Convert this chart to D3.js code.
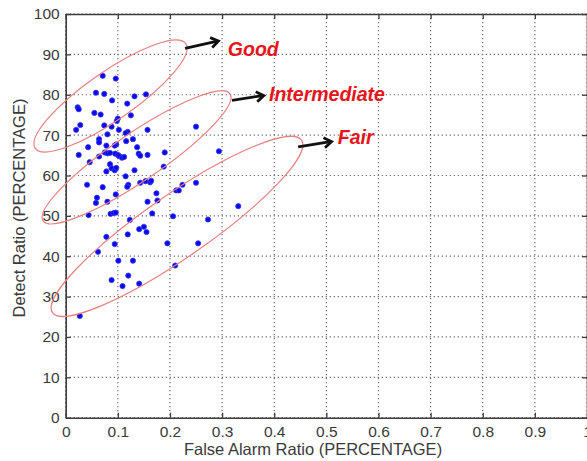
<!DOCTYPE html>
<html>
<head>
<meta charset="utf-8">
<script src="https://cdn.jsdelivr.net/npm/d3@7"></script>
<style>
  body { margin: 0; background: #fff; }
  svg { display: block; }
</style>
</head>
<body>
<div id="chart"></div>
<script>
// False alarm ratio / detect ratio pairs
var falseAlarm = [
  0.071, 0.096, 0.058, 0.074, 0.089, 0.154, 0.132, 0.118, 0.023, 0.025,
  0.055, 0.067, 0.125, 0.100, 0.098, 0.028, 0.074, 0.088, 0.020, 0.102,
  0.157, 0.119, 0.115, 0.080, 0.250, 0.064, 0.129, 0.116, 0.064, 0.043,
  0.097, 0.094, 0.078, 0.137, 0.025, 0.064, 0.075, 0.080, 0.085, 0.095,
  0.100, 0.103, 0.108, 0.112, 0.140, 0.143, 0.157, 0.190, 0.294, 0.046,
  0.085, 0.088, 0.078, 0.094, 0.132, 0.115, 0.188, 0.041, 0.071, 0.120,
  0.118, 0.143, 0.162, 0.164, 0.250, 0.224, 0.212, 0.217, 0.096, 0.174,
  0.060, 0.058, 0.080, 0.157, 0.176, 0.331, 0.044, 0.086, 0.092, 0.096,
  0.166, 0.206, 0.123, 0.273, 0.078, 0.062, 0.094, 0.119, 0.141, 0.150,
  0.155, 0.195, 0.254, 0.101, 0.129, 0.210, 0.088, 0.120, 0.141, 0.109,
  0.027, 0.153, 0.097
];
var detect = [
  84.7, 84.0, 80.5, 80.2, 78.6, 80.1, 79.6, 77.8, 76.9, 76.4,
  75.5, 75.1, 74.9, 74.1, 73.5, 72.5, 72.4, 72.1, 71.3, 71.3,
  71.3, 70.8, 70.5, 70.2, 72.1, 69.0, 69.0, 68.5, 68.2, 67.0,
  67.7, 67.4, 67.4, 67.0, 65.1, 64.7, 65.7, 65.5, 65.6, 65.4,
  65.1, 64.8, 64.4, 64.6, 65.4, 64.9, 65.1, 65.7, 66.0, 63.3,
  62.8, 61.8, 61.0, 61.3, 61.3, 59.8, 62.2, 57.7, 57.1, 57.7,
  57.2, 58.2, 58.3, 58.7, 58.2, 57.7, 56.3, 56.3, 55.3, 55.6,
  54.5, 53.2, 53.5, 53.5, 53.8, 52.4, 50.2, 50.5, 50.7, 50.8,
  50.6, 49.9, 49.0, 49.1, 44.8, 41.1, 43.0, 45.4, 46.7, 47.3,
  46.0, 43.2, 43.2, 38.9, 38.9, 37.7, 34.1, 35.2, 33.2, 32.6,
  25.2, 58.6, 61.9
];

var xTicks = [0, 0.1, 0.2, 0.3, 0.4, 0.5, 0.6, 0.7, 0.8, 0.9, 1];
var yTicks = [0, 10, 20, 30, 40, 50, 60, 70, 80, 90, 100];

// class regions (ellipse centres in data units) and their labels
var classNames = ['Good', 'Intermediate', 'Fair'];
var classCx = [0.086, 0.136, 0.2135];
var classCy = [79.7, 64.5, 47.4];
var arrowFromX = [0.229, 0.319, 0.446];
var arrowFromY = [91.5, 78.6, 67.1];
var arrowToX = [0.293, 0.380, 0.510];
var arrowToY = [93.3, 79.8, 68.4];
var labelX = [0.311, 0.390, 0.522];
var labelY = [89.6, 78.4, 67.8];

// ellipse shape, in pixels
var ellipseA = [91.7, 113, 151.5];
var ellipseB = [24.1, 23.8, 31.5];
var ellipseAngle = [34.8, 34.2, 34.7];

var width = 587, height = 461;
var plotLeft = 65.7, plotRight = 587, plotTop = 14, plotBottom = 417.7;

var svg = d3.select('#chart')
  .append('svg')
  .attr('width', width)
  .attr('height', height);

svg.append('rect')
  .attr('width', width)
  .attr('height', height)
  .attr('fill', '#fff');

var x_scale = d3.scaleLinear().domain([0, 1]).range([plotLeft, plotRight]);
var y_scale = d3.scaleLinear().domain([0, 100]).range([plotBottom, plotTop]);

// dotted grid
var grid = svg.append('g').attr('class', 'grid');
grid.selectAll('line.vx')
  .data(xTicks)
  .enter().append('line')
  .attr('class', 'vx')
  .attr('x1', function(d) { return x_scale(d); })
  .attr('x2', function(d) { return x_scale(d); })
  .attr('y1', plotTop)
  .attr('y2', plotBottom);
grid.selectAll('line.hy')
  .data(yTicks)
  .enter().append('line')
  .attr('class', 'hy')
  .attr('x1', plotLeft)
  .attr('x2', plotRight)
  .attr('y1', function(d) { return y_scale(d); })
  .attr('y2', function(d) { return y_scale(d); });
grid.selectAll('line')
  .attr('stroke', '#707070')
  .attr('stroke-width', 1.2)
  .attr('stroke-dasharray', '1.3,2.7');

// axes with inward ticks on every side
var fmtX = function(d) { return d === 0 || d === 1 ? String(d) : d3.format('.1f')(d); };

var x_axis = d3.axisBottom(x_scale).tickValues(xTicks).tickFormat(fmtX)
  .tickSizeInner(-5).tickSizeOuter(0).tickPadding(8);
var y_axis = d3.axisLeft(y_scale).tickValues(yTicks)
  .tickSizeInner(-5).tickSizeOuter(0).tickPadding(6);
var top_axis = d3.axisTop(x_scale).tickValues(xTicks).tickFormat('')
  .tickSizeInner(-5).tickSizeOuter(0);
var right_axis = d3.axisRight(y_scale).tickValues(yTicks).tickFormat('')
  .tickSizeInner(-5).tickSizeOuter(0);

var gx = svg.append('g').attr('transform', 'translate(0,' + plotBottom + ')').call(x_axis);
var gy = svg.append('g').attr('transform', 'translate(' + plotLeft + ',0)').call(y_axis);
var gt = svg.append('g').attr('transform', 'translate(0,' + plotTop + ')').call(top_axis);
var gr = svg.append('g').attr('transform', 'translate(' + plotRight + ',0)').call(right_axis);

[gx, gy, gt, gr].forEach(function(g) {
  g.select('.domain').attr('stroke', '#3c3c3c').attr('stroke-width', 1.6);
  g.selectAll('.tick line').attr('stroke', '#3c3c3c').attr('stroke-width', 1.3);
  g.selectAll('.tick text')
    .attr('fill', '#3a3a3a')
    .style('font-family', '"Liberation Sans", Arial, sans-serif')
    .style('font-size', '15.5px');
});

// axis titles
svg.append('text')
  .attr('x', 313)
  .attr('y', 455)
  .attr('text-anchor', 'middle')
  .attr('fill', '#3a3a3a')
  .style('font-family', '"Liberation Sans", Arial, sans-serif')
  .style('font-size', '16.5px')
  .text('False Alarm Ratio (PERCENTAGE)');

svg.append('text')
  .attr('transform', 'translate(25,' + 208 + ') rotate(-90)')
  .attr('text-anchor', 'middle')
  .attr('fill', '#3a3a3a')
  .style('font-family', '"Liberation Sans", Arial, sans-serif')
  .style('font-size', '16.5px')
  .text('Detect Ratio (PERCENTAGE)');

// points
var points = falseAlarm.map(function(v, i) { return { fa: v, dr: detect[i] }; });
svg.append('g')
  .selectAll('circle')
  .data(points)
  .enter().append('circle')
  .attr('cx', function(d) { return x_scale(d.fa); })
  .attr('cy', function(d) { return y_scale(d.dr); })
  .attr('r', 2.6)
  .attr('fill', '#0a0ae6')
  .attr('stroke', '#3535ff')
  .attr('stroke-width', 0.8);

// ellipses
svg.append('g')
  .selectAll('ellipse')
  .data(classNames)
  .enter().append('ellipse')
  .attr('transform', function(d, i) {
    return 'translate(' + x_scale(classCx[i]) + ',' + y_scale(classCy[i]) + ') rotate(' + (-ellipseAngle[i]) + ')';
  })
  .attr('rx', function(d, i) { return ellipseA[i]; })
  .attr('ry', function(d, i) { return ellipseB[i]; })
  .attr('fill', 'none')
  .attr('stroke', '#e88080')
  .attr('stroke-width', 1.2);

// arrows
var arrows = svg.append('g');
classNames.forEach(function(name, i) {
  var x1 = x_scale(arrowFromX[i]), y1 = y_scale(arrowFromY[i]);
  var x2 = x_scale(arrowToX[i]), y2 = y_scale(arrowToY[i]);
  var ang = Math.atan2(y2 - y1, x2 - x1);
  var len = 9, spread = 0.6;
  var p1 = [x2 - len * Math.cos(ang - spread), y2 - len * Math.sin(ang - spread)];
  var p2 = [x2 - len * Math.cos(ang + spread), y2 - len * Math.sin(ang + spread)];
  arrows.append('line')
    .attr('x1', x1).attr('y1', y1)
    .attr('x2', x2 - 1).attr('y2', y2)
    .attr('stroke', '#111')
    .attr('stroke-width', 2.8);
  arrows.append('path')
    .attr('d', 'M' + p1 + 'L' + [x2, y2] + 'L' + p2)
    .attr('fill', 'none')
    .attr('stroke', '#111')
    .attr('stroke-width', 2.8)
    .attr('stroke-linejoin', 'miter');
});

// class labels
svg.append('g')
  .selectAll('text')
  .data(classNames)
  .enter().append('text')
  .attr('x', function(d, i) { return x_scale(labelX[i]); })
  .attr('y', function(d, i) { return y_scale(labelY[i]); })
  .attr('fill', '#e8141c')
  .style('font-family', '"Liberation Sans", Arial, sans-serif')
  .style('font-size', '19.5px')
  .style('font-weight', 'bold')
  .style('font-style', 'italic')
  .text(function(d) { return d; });
</script>
</body>
</html>
